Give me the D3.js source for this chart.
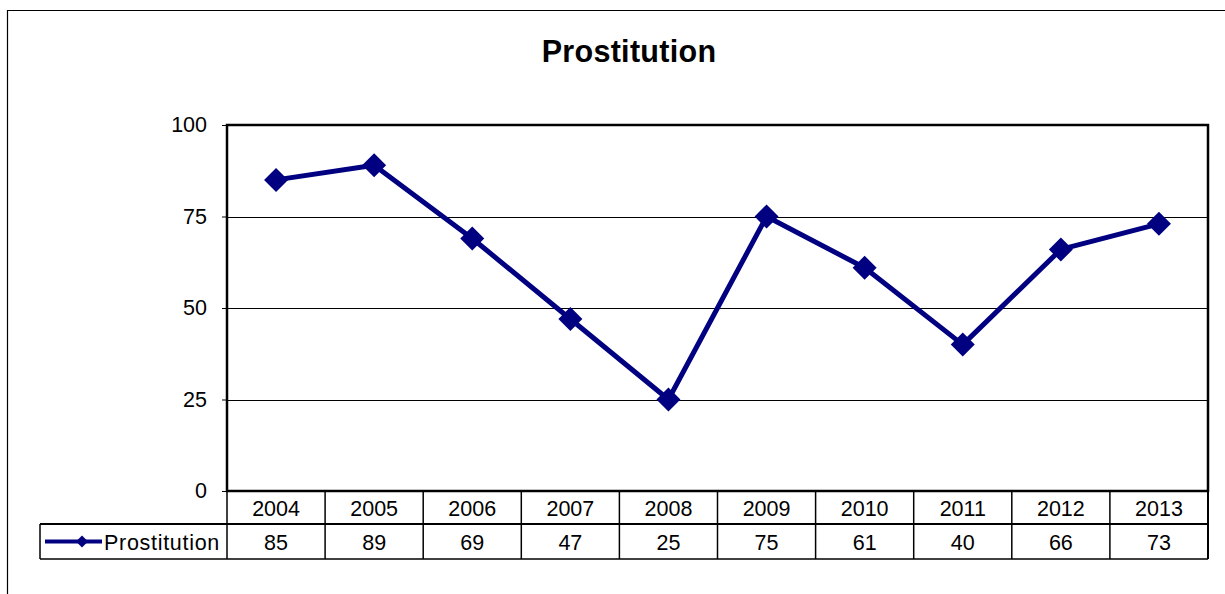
<!DOCTYPE html>
<html><head><meta charset="utf-8">
<script src="https://cdn.jsdelivr.net/npm/d3@7"></script>
<style>body{margin:0;background:#fff;}svg{display:block;font-family:"Liberation Sans",Arial,sans-serif;}</style>
</head><body>
<svg id="c" width="1225" height="594"></svg>
<script>
const categories = ["2004","2005","2006","2007","2008","2009","2010","2011","2012","2013"];
const values = [85,89,69,47,25,75,61,40,66,73];
const yTicks = [0,25,50,75,100];
const seriesName = "Prostitution";
const title = "Prostitution";

const svg = d3.select("#c");
const L = 227, R = 1208, T = 125, B = 491;
const row1B = 524, row2B = 559, legendL = 40;
const color = "#000080";
const fs = 21.5;

// outer border
svg.append("path").attr("d","M7.5,600 V10.5 H1230").attr("fill","none").attr("stroke","#000").attr("stroke-width",1.2);

svg.append("text").attr("x",629).attr("y",62).attr("text-anchor","middle")
  .attr("font-size",30.5).attr("font-weight","bold").attr("letter-spacing",0.3).text(title);

const x = d3.scaleBand().domain(categories).range([L,R]);
const y = d3.scaleLinear().domain([0,100]).range([B,T]);

// gridlines
svg.append("g").selectAll("line").data(yTicks.filter(d=>d>0&&d<100)).join("line")
  .attr("x1",L).attr("x2",R).attr("y1",d=>Math.round(y(d))+0.5).attr("y2",d=>Math.round(y(d))+0.5)
  .attr("stroke","#000").attr("stroke-width",1);

// y axis
const ya = svg.append("g").attr("transform",`translate(${L},0)`)
  .call(d3.axisLeft(y).tickValues(yTicks).tickSize(5).tickPadding(15));
ya.select(".domain").remove();
ya.selectAll("line").attr("stroke","#000");
ya.selectAll("text").attr("font-size",fs).attr("fill","#000").attr("font-family","Liberation Sans, Arial, sans-serif");

// plot border
svg.append("rect").attr("x",L).attr("y",T).attr("width",R-L).attr("height",B-T)
  .attr("fill","none").attr("stroke","#000").attr("stroke-width",2.5);

// table
const tg = svg.append("g");
tg.append("line").attr("x1",legendL).attr("x2",R).attr("y1",row1B).attr("y2",row1B).attr("stroke","#000").attr("stroke-width",2);
tg.append("line").attr("x1",legendL).attr("x2",R).attr("y1",row2B).attr("y2",row2B).attr("stroke","#000").attr("stroke-width",1.5);
tg.append("line").attr("x1",legendL).attr("x2",legendL).attr("y1",row1B).attr("y2",row2B).attr("stroke","#000").attr("stroke-width",1.5);
tg.append("line").attr("x1",R).attr("x2",R).attr("y1",B).attr("y2",row2B).attr("stroke","#000").attr("stroke-width",2);
tg.append("line").attr("x1",L).attr("x2",L).attr("y1",B).attr("y2",row2B).attr("stroke","#000").attr("stroke-width",1.5);
tg.selectAll("line.div").data(categories.slice(1)).join("line").attr("class","div")
  .attr("x1",d=>x(d)).attr("x2",d=>x(d)).attr("y1",B).attr("y2",row2B)
  .attr("stroke","#000").attr("stroke-width",1.5);
tg.selectAll("text.cat").data(categories).join("text").attr("class","cat")
  .attr("x",d=>x(d)+x.bandwidth()/2).attr("y",(B+row1B)/2+8).attr("text-anchor","middle")
  .attr("font-size",fs).text(d=>d);
tg.selectAll("text.val").data(values).join("text").attr("class","val")
  .attr("x",(d,i)=>x(categories[i])+x.bandwidth()/2).attr("y",(row1B+row2B)/2+8).attr("text-anchor","middle")
  .attr("font-size",fs).text(d=>d);

// diamond symbol
const diamond = (cx,cy,r)=>`M${cx},${cy-r}L${cx+r},${cy}L${cx},${cy+r}L${cx-r},${cy}Z`;

// legend
const ly = (row1B+row2B)/2;
tg.append("line").attr("x1",45).attr("x2",102).attr("y1",ly).attr("y2",ly).attr("stroke",color).attr("stroke-width",4);
tg.append("path").attr("d",diamond(82,ly,6)).attr("fill",color);
tg.append("text").attr("x",104).attr("y",ly+8).attr("font-size",fs).attr("letter-spacing",0.7).text(seriesName);

// line
const line = d3.line().x((d,i)=>x(categories[i])+x.bandwidth()/2).y(d=>y(d));
svg.append("path").datum(values).attr("d",line).attr("fill","none").attr("stroke",color).attr("stroke-width",5).attr("stroke-linejoin","round");
svg.append("g").selectAll("path").data(values).join("path")
  .attr("d",(d,i)=>diamond(x(categories[i])+x.bandwidth()/2,y(d),12)).attr("fill",color);
</script>
</body></html>
